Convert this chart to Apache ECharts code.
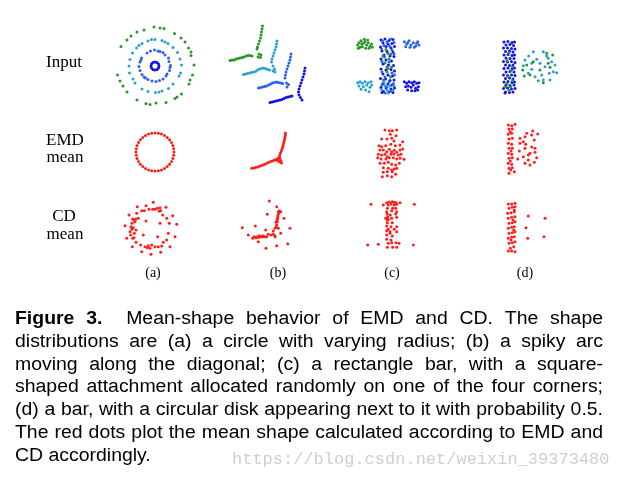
<!DOCTYPE html>
<html>
<head>
<meta charset="utf-8">
<script src="https://cdn.jsdelivr.net/npm/echarts@6/dist/echarts.min.js"></script>
<style>
  html, body { margin: 0; background: #fff; }
  #main { width: 618px; height: 481px; }
</style>
</head>
<body>
<div id="main"></div>
<script>
// ---- data (local units, 1 unit ~ 1px, y up, panel centre = 0,0) ----

// row 1 (a): rings
const ringInner = [[4,0],[3.5,2],[2,3.5],[0,4],[-2,3.5],[-3.5,2],[-4,0],[-3.5,-2],[-2,-3.5],[0,-4],[2,-3.5],[3.5,-2]]
const ringBlue = [[15.5,0.5],[14,4.5],[13.5,8],[10,11],[8,13.5],[3,15],[-0.5,16],[-4.5,15],[-8,13],[-13.5,8],[-15,4],[-16,-0.5],[-15,-4.5],[-13,-8.5],[-11,-11],[-7,-13.5],[-3,-15],[1,-15.5],[4.5,-14.5],[8,-13],[11,-10],[14.5,-4.5],[-14,6],[12,-8],[15,-1.5],[5,14.5],[-9.5,-12]]
const ringTeal = [[26.5,1],[25,7],[22.5,13.5],[18,18.5],[13,22.5],[7,25.5],[0,26.5],[-7,25],[-13,22.5],[-18.5,18],[-22.5,13],[-25,6.5],[-26,0],[-25.5,-7],[-22,-13],[-13,-23],[-7,-25.5],[0.5,-26.5],[7,-25],[13.5,-22.5],[18,-18],[25.5,-7],[-3.5,26.5],[10,24],[-16,20.5],[24,-10],[-20,-17],[4,-26]]
const ringGreen = [[39,1],[36,10.5],[33.5,18],[26,28],[19.5,32.5],[9,37.5],[-1,39],[-11,36],[-18,34],[-28,26],[-34,19.5],[-37.5,-9],[-32,-20],[-28,-26],[-18,-34],[-9,-37.5],[1,-37],[11,-36.5],[20,-32.5],[26.5,-28],[34,-18],[37.5,-9],[35,-14],[36,14],[-35,-15],[-24,30],[5,38],[-5,-38.5],[22,-31],[30,24]]

// row 1 (b): spiky arcs
const arcGreen = [[-5.5,38],[-6,35],[-6.5,32],[-7,29],[-7.5,26],[-8.5,23],[-9.5,20],[-10.5,17],[-11,15],[-9,10],[-7,9],[-7.5,6.5],[-10,7],[-38,3.5],[-36,4],[-34,4],[-32,5],[-30,5.5],[-28,6],[-26,6.5],[-24,7],[-22,8],[-20,8.5],[-18,8.5],[-16,8]]
const arcTeal = [[9,23],[8.5,20],[8,17],[7,14],[6,11],[5,8],[4,5],[3.5,2],[5,-2],[6.5,-5],[7,-8],[5,-7],[-24.5,-10.5],[-22.5,-10],[-20.5,-9.5],[-18.5,-9],[-16.5,-8.5],[-14.5,-8],[-12.5,-7.5],[-10.5,-6],[-8.5,-5],[-6.5,-4.5],[-4.5,-4],[-2.5,-4.5],[-0.5,-5.5],[1.5,-6]]
const arcLight = [[23,10],[22.5,7],[22,4],[21,1],[20,-2],[19,-5],[18,-8],[17.5,-11],[17,-14],[18.5,-19],[20.5,-20.5],[19,-23],[-9.5,-24],[-7.5,-23.5],[-5.5,-23],[-3.5,-22.5],[-1.5,-22],[0.5,-21],[2.5,-20],[4.5,-19],[6.5,-18.5],[8.5,-18],[10.5,-18.5],[12.5,-19],[14.5,-19.5]]
const arcBlue = [[37,-4],[36.5,-7],[36,-10],[35,-13],[34,-16],[33,-19],[32,-22],[31,-25],[30.5,-28],[31,-31],[32.5,-33.5],[34,-36],[2,-38.5],[4,-38],[6,-37.5],[8,-37],[10,-36.5],[12,-36],[14,-35.5],[16,-34.5],[18,-33.5],[20,-33],[22,-32.5],[24,-32]]

// row 1 (c): bar with corner squares
const cGreen = [[-30.3,21],[-29,23.3],[-27,25.3],[-24.7,22.7],[-23,24.3],[-21.3,21],[-19.7,23.3],[-18,20],[-16.3,22],[-28,18.7],[-25.7,19.3],[-22.3,17.7],[-19,17.7],[-23.7,26.7],[-20.3,26],[-15.7,18.7],[-29.7,17.7],[-26.3,22]]
const cTeal = [[-30.3,-16.7],[-28,-15.7],[-25.7,-17.3],[-23,-15.7],[-19.7,-16.7],[-17,-15.7],[-29,-20],[-24.7,-20.7],[-21.3,-19],[-18,-21.3],[-27,-23.3],[-22.3,-24],[-19,-25.7],[-16.3,-19]]
const cLight = [[16.3,24.3],[18.7,22],[21,25.3],[23,21],[25.3,23.3],[27.7,20],[29.7,24.3],[31,21],[17.7,19.3],[22,18.7],[26.3,18.7],[28.7,22.7],[19.7,23.3]]
const cBlue = [[16.3,-15.7],[18.7,-17.3],[21,-15.7],[23.7,-16.7],[26.3,-15.7],[28.7,-17.3],[31,-16.7],[17.7,-20.7],[20.3,-20],[23,-21.3],[25.3,-19],[27.7,-22.3],[30.3,-20.7],[19.7,-24],[23.7,-24.7],[27,-24.7],[29.7,-24]]
const cBarBlue = [[-7,26],[-3,27],[1,25.5],[5,26.5],[-5,23],[0,22],[4,22.5],[-7.5,19],[-2,19.5],[3,18],[6.5,19.5],[-6,15],[-1,14.5],[5,14],[-4,11],[2,10],[6,9.5],[-7,7],[-2,6],[3.5,5],[-5,2],[0.5,1],[5.5,0.5],[-7,-3],[-2,-4],[3,-3.5],[6.5,-5],[-5,-8],[0,-9],[4.5,-10],[-7.5,-12.5],[-2.5,-13],[2,-14.5],[6,-14],[-5,-17.5],[0,-18],[4,-19],[-7,-21.5],[-2,-22],[3,-23],[6.5,-22],[-4.5,-25.5],[1,-26],[5,-26.5],[-6,-26.5]]
const cBarLight = [[-5.5,25],[2.5,27],[-1,24],[6,23.5],[-4,20.5],[1.5,20],[-6.5,17],[4,16],[0,12.5],[-3.5,9],[6,12],[-6,4.5],[1,4],[-1,-1],[4,-7],[-6,-6],[-3,-11],[6.5,-9],[1,-16],[-6,-19],[5.5,-17.5],[-1,-21],[3,-25],[-3,-27]]
const cBarGreen = [[-2,16.5],[3,12],[-5,10],[1,7],[-3,3],[3.5,-1],[-1,-6],[2.5,-11],[-4.5,-14],[0,-2.5]]
const cBarTeal = [[-4,-16],[2,-20],[-1,-24],[5,-24],[-6.5,-23.5],[6,-19.5],[-3,-19.5],[0,-27]]

// row 1 (d): bar + disk
const dBarBlue = [[-24,25],[-20,25.5],[-16,24.5],[-13.5,25],[-22,22],[-18,22.5],[-14.5,21.5],[-24.5,19],[-20.5,19],[-16.5,18.5],[-13,18],[-22.5,15.5],[-18.5,16],[-15,15],[-24,12],[-20,12.5],[-16,11.5],[-13.5,12],[-22,9],[-18,8.5],[-14,8.5],[-24.5,5.5],[-20.5,5],[-16.5,5.5],[-13,4.5],[-22.5,2],[-18.5,1.5],[-15,2],[-24,-1.5],[-20,-1],[-16,-2],[-13.5,-1],[-22,-5],[-18,-4.5],[-14,-5],[-24.5,-8],[-20.5,-8.5],[-16.5,-8],[-13,-8.5],[-22.5,-11.5],[-18.5,-11],[-15,-12],[-24,-15],[-20,-14.5],[-16,-15.5],[-13.5,-15],[-22,-18],[-18,-18.5],[-14,-18],[-24.5,-21.5],[-20.5,-21],[-16.5,-22],[-13,-21.5],[-22.5,-25],[-18.5,-25.5],[-15,-25],[-23,-26]]
const dBarGreen = [[-19,14],[-21,6.5],[-17,-3.5],[-19.5,-9.5],[-15.5,-13.5],[-21,-16.5],[-17.5,-20],[-19,-23.5],[-23,-19.5],[-15.5,0]]
const dDiskTeal = [[5.3,15.3],[0.7,11],[-3,7],[-4.7,1.3],[3.7,3.7],[8.7,7.7],[15.3,15.3],[18.7,11],[12,3.7],[17,0.3],[20.3,8.7],[23.7,5.3],[27,2],[25.3,-4.7],[21.3,-6.3],[13.7,-8],[7,-9.7],[0.3,-6.3],[3.7,-2.3],[15.3,-13],[10.3,-13.7],[28.7,-5.7],[22,-13]]
const dDiskGreen = [[5.3,5.3],[-1.3,2],[-5.3,-3],[-3.7,-9],[2,-8],[12,-3],[18.7,13.7],[24.7,12],[15.3,-15.7],[20.3,3.7],[22,-0.3]]

// row 2: EMD mean
const emdA = [[19,0],[18.7,3.3],[17.9,6.5],[16.5,9.5],[14.6,12.2],[12.2,14.6],[9.5,16.5],[6.5,17.9],[3.3,18.7],[0,19],[-3.3,18.7],[-6.5,17.9],[-9.5,16.5],[-12.2,14.6],[-14.6,12.2],[-16.5,9.5],[-17.9,6.5],[-18.7,3.3],[-19,0],[-18.7,-3.3],[-17.9,-6.5],[-16.5,-9.5],[-14.6,-12.2],[-12.2,-14.6],[-9.5,-16.5],[-6.5,-17.9],[-3.3,-18.7],[0,-19],[3.3,-18.7],[6.5,-17.9],[9.5,-16.5],[12.2,-14.6],[14.6,-12.2],[16.5,-9.5],[17.9,-6.5],[18.7,-3.3]]
const emdB = [[17.5,19],[17.3,17],[17,15],[16.7,13],[16.2,11],[15.7,9],[15.2,7],[14.6,5],[14,3],[13.3,1],[12.5,-1],[11.8,-3],[11.5,-5],[10,-6],[12,-7],[13,-9],[10.5,-9],[9,-8],[12,-10],[13.5,-11],[8,-7.5],[-16.3,-16.3],[-14.5,-16],[-12.5,-15.5],[-10.5,-15],[-8.5,-14.3],[-6.5,-13.6],[-4.5,-12.8],[-2.5,-12],[-0.5,-11],[1.5,-10],[3.5,-9.2],[5.5,-8.5],[7,-8]]
const emdC = [[-5,23],[-0.7,22.3],[2.3,22.3],[6.7,23],[-8.3,14],[-3,14],[1.7,14.7],[6,17.3],[0.3,18.7],[4,12],[12.7,11.3],[-11,7.3],[-8.3,6.3],[-4.3,7.3],[0.7,8.7],[5.3,7.3],[10,8],[-10,3],[-6.7,3],[-3.3,1.3],[-0.7,3.7],[1.7,1.3],[4.3,2.7],[6.7,0.7],[10,3],[12.7,4],[-11.7,-1.3],[-8.3,-2],[-5,-1.3],[-2.7,-3.7],[1,-1.3],[4,-1],[8.3,-2],[11,-1.3],[-12.3,-4.7],[-9,-6],[-4,-6],[-0.7,-4.7],[3.3,-4.7],[6.7,-6],[10,-5.3],[14,-6.3],[-10,-10.3],[-5.7,-10.3],[-1.7,-9.3],[1.7,-11.3],[5.7,-12],[9.3,-10.3],[-6.7,-14.7],[-1.7,-15.3],[1.7,-17],[4.3,-16],[6.7,-15.3],[-6.7,-19.3],[-2.7,-18.7],[2.3,-18.7],[-7.7,-23.7],[-2.7,-22.7],[1.7,-23.7],[5.7,-21.3]]
const emdD = [[-16.7,25],[-13.3,24.3],[-10,25.7],[-16,21],[-12.7,21],[-16.7,15.7],[-13.3,16.7],[-16,11],[-12.7,11.7],[-16.7,6.7],[-13.3,5.7],[-16,1.7],[-12.7,1.7],[-16.7,-3.3],[-13.3,-4.3],[-16,-8.3],[-12.7,-7.7],[-16.7,-13.3],[-13.3,-14.3],[-16,-18.3],[-12.7,-17.7],[-16,-23.3],[-10.7,-21.7],[-14.3,-20],[-15,18.3],[-14,-1],[-14.7,-11],[1.7,16.7],[7.7,19],[12.7,16],[0,13.3],[9.3,10],[-5,6.7],[0.7,5.7],[6.7,3],[10,1.7],[-5.7,-1],[0,1.7],[5,-3.3],[10,-2.3],[-7.3,-9],[-1.7,-6.7],[3.3,-10],[11.7,-7.7],[0,-13.3],[5,-15],[9.3,-12.3],[-1.7,8.3],[6.7,15],[-5,11.7],[3.3,-5]]

// row 3: CD mean
const cdA = [[-1.7,27.7],[-17.7,23.3],[-9,24.3],[5,22.3],[11,22.7],[-26,15],[-18.3,16.7],[-13.3,19.3],[-10.7,19.3],[-6,20.7],[-2.3,20.7],[0,20.7],[2.3,21.7],[4,19],[5.7,19.3],[7.7,15],[11.7,11.7],[17.7,14.3],[-22.3,11],[-21,10],[-19,11],[-23,6.7],[-20,8.3],[-9,9],[14.3,6.7],[21.7,5.7],[-30,4.3],[-24,3.3],[-23.3,0.7],[-21.7,2.3],[5,6.7],[-25,-1.7],[-20.7,-3.3],[-19,0],[-11.7,-5],[13.3,-3.3],[-22.3,-8.3],[-28.3,-8.3],[-21,-7.7],[2.7,-6.7],[20,-6.7],[-19,-12.3],[11.7,-10],[-14.3,-15],[-10,-16.7],[-7.7,-17.7],[-5,-18.3],[-6.7,-15.7],[-3.3,-15],[0,-16.7],[3.3,-16.7],[8.3,-12.3],[6.7,-16],[15,-16.7],[-22.7,-16.7],[-13.3,-21.7],[-4,-24.3],[5.7,-22.3],[-16.7,11.7],[-24.3,-5]]
const cdB = [[1.3,27],[8.7,21.3],[10.3,16.3],[11.3,17],[12.7,16.3],[10,13],[9.7,9.7],[9.3,6.3],[8.7,3],[7,-0.3],[10.3,-0.3],[8,5.7],[-0.7,13.7],[16,9.7],[22,-0.3],[-25.7,0.3],[-12.7,2],[-19.7,-7],[-2.3,-2],[0.3,-6.3],[3,-7],[5.3,-6.3],[7,-7.7],[-1.3,-8.7],[-14,-8.7],[-11.3,-8.7],[-9.7,-9.3],[-8,-9],[-6.3,-8.7],[-4.7,-8.7],[-3,-8.7],[-15.3,-10.3],[-12,-9.7],[-9.7,-13.7],[7,-8.7],[12.7,-5.3],[8.7,-17.7],[-2,-20.3],[19.7,-15.7],[5.3,-3],[10.7,14.7],[9.7,11.3],[9,8],[8.3,1.3],[-8.7,-7.7],[-5.3,-7.7]]
const cdC = [[-3.3,22.3],[-0.7,23],[2.3,23.3],[4.3,22.7],[6,22.3],[10,22.3],[-6.7,20],[-1.7,20],[1,21],[4.3,20],[6.7,20.7],[-2.7,16.7],[2.7,16.7],[5.7,16.7],[-3.3,13.3],[1.7,14.3],[6.7,13.3],[-2.7,11],[0.3,10],[5.7,11],[-4.3,6.7],[-1.7,5.7],[-2.7,5],[1.7,6.7],[6.7,7.7],[-2.7,2.3],[2.3,2.3],[-3.3,-1],[1,-1.7],[6.7,-1.7],[4.3,-4.3],[-3.3,-5.7],[0,-6.7],[6.7,-6.7],[-3.3,-10],[2.3,-11],[-3.3,-14.3],[1,-15],[-1.7,-18.3],[1.7,-17.7],[6,-17.7],[9,-18.3],[-2.7,-22.3],[2.7,-22.3],[6.7,-22.3],[0,-8.3],[-1.7,-4.3],[-2.3,8.3],[-19,20.7],[24.3,20.7],[-22.3,-20],[-11.7,-19.3],[23.3,-20]]
const cdD = [[-16.7,24],[-13.3,24],[-10,24.7],[-16,19.7],[-12.7,20.7],[-10,21.3],[-17.3,14.7],[-14,15.3],[-10.7,16.3],[-16.7,9.7],[-13.3,10.7],[-10,11.3],[-16,4.7],[-12.7,5.3],[-10,6.3],[-16.7,-0.3],[-13.3,0.7],[-10.7,1.3],[-16,-5.3],[-12.7,-4.7],[-10,-3.7],[-16.7,-10.3],[-13.3,-9.3],[-10.7,-8.7],[-16,-15.3],[-12.7,-14.7],[-10,-13.7],[-16.7,-23],[-13.3,-23],[-10,-23.7],[-14.7,-20.3],[-11.3,-18.7],[-12,8],[-11.3,-2],[-14,-12],[-10.7,18],[3.3,12],[20,9.7],[1,0.3],[2.7,-10.3],[19,-8.7]]

// column and row labels
const colLabels = ['(a)', '(b)', '(c)', '(d)']

// caption lines: [bold lead, rest]
const captionLines = [
  ['Figure 3.', 'Mean-shape behavior of EMD and CD. The shape'],
  ['', 'distributions are (a) a circle with varying radius; (b) a spiky arc'],
  ['', 'moving along the diagonal; (c) a rectangle bar, with a square-'],
  ['', 'shaped attachment allocated randomly on one of the four corners;'],
  ['', '(d) a bar, with a circular disk appearing next to it with probability 0.5.'],
  ['', 'The red dots plot the mean shape calculated according to EMD and'],
  ['', 'CD accordingly.']
]
const watermark = 'https://blog.csdn.net/weixin_39373480'

// ---- layout ----
const GREEN = '#2a962a'
const TEAL = '#2a9fd2'
const LIGHT = '#2a62f0'
const BLUE = '#1212e6'
const RED = '#ff1e1e'

const panels = [
  {cx: 155, cy: 66, layers: [[ringGreen, GREEN], [ringTeal, TEAL], [ringBlue, LIGHT], [ringInner, BLUE]]},
  {cx: 268, cy: 64, layers: [[arcGreen, GREEN], [arcTeal, TEAL], [arcLight, LIGHT], [arcBlue, BLUE]]},
  {cx: 388, cy: 66, layers: [[cGreen, GREEN], [cTeal, TEAL], [cLight, LIGHT], [cBlue, BLUE], [cBarBlue, BLUE], [cBarLight, LIGHT], [cBarGreen, GREEN], [cBarTeal, TEAL]]},
  {cx: 528, cy: 67, layers: [[dBarBlue, BLUE], [dBarGreen, GREEN], [dDiskTeal, TEAL], [dDiskGreen, GREEN]]},
  {cx: 155, cy: 152, layers: [[emdA, RED]]},
  {cx: 268, cy: 152, layers: [[emdB, RED]]},
  {cx: 390, cy: 153, layers: [[emdC, RED]]},
  {cx: 525, cy: 150, layers: [[emdD, RED]]},
  {cx: 155, cy: 230, layers: [[cdA, RED]]},
  {cx: 268, cy: 228, layers: [[cdB, RED]]},
  {cx: 390, cy: 225, layers: [[cdC, RED]]},
  {cx: 525, cy: 228, layers: [[cdD, RED]]}
]

let grid = []
let xAxis = []
let yAxis = []
let series = []
panels.forEach((p, i) => {
  grid.push({left: p.cx - 50, top: p.cy - 50, width: 100, height: 100, show: false})
  xAxis.push({type: 'value', gridIndex: i, min: -50, max: 50, show: false})
  yAxis.push({type: 'value', gridIndex: i, min: -50, max: 50, show: false})
  p.layers.forEach(l => {
    series.push({
      type: 'scatter',
      xAxisIndex: i,
      yAxisIndex: i,
      data: l[0],
      symbolSize: 3,
      itemStyle: {color: l[1], opacity: 1},
      silent: true
    })
  })
})

// ---- texts ----
let graphic = []
const serif = '"Liberation Serif", "Times New Roman", serif'
const sans = '"Liberation Sans", Arial, sans-serif'

function label (text, x, y, size) {
  graphic.push({
    type: 'text', x: x, y: y, silent: true,
    style: {text: text, font: size + 'px ' + serif, fill: '#000', align: 'center', verticalAlign: 'middle', textAlign: 'center', textVerticalAlign: 'middle'}
  })
}

label('Input', 64, 63, 17)
label('EMD', 65, 141, 17)
label('mean', 65, 158, 17)
label('CD', 64, 217, 17)
label('mean', 65, 235, 17)
const colX = [153, 278, 392, 525]
colLabels.forEach((t, i) => label(t, colX[i], 273, 14))

// justified caption
const measure = document.createElement('canvas').getContext('2d')
function textWidth (str, font) {
  measure.font = font
  return measure.measureText(str).width
}

const capSize = 18
const capScale = 1.08
const capLeft = 15
const capRight = 603
const capTop = 319
const capStep = 22.8

captionLines.forEach((line, n) => {
  let words = []
  if (line[0]) line[0].split(' ').forEach(w => words.push({text: w, bold: true}))
  line[1].split(' ').forEach(w => words.push({text: w, bold: false}))
  words.forEach(w => {
    w.font = (w.bold ? 'bold ' : '') + capSize + 'px ' + sans
    w.width = textWidth(w.text, w.font) * capScale
  })
  let extra = line[0] ? 12 : 0
  let total = words.reduce((s, w) => s + w.width, 0) + extra
  let last = n === captionLines.length - 1
  let gap = last ? textWidth(' ', capSize + 'px ' + sans) * capScale : (capRight - capLeft - total) / (words.length - 1)
  let x = capLeft
  let y = capTop + n * capStep
  words.forEach((w, k) => {
    graphic.push({
      type: 'text', x: x, y: y, scaleX: capScale, silent: true,
      style: {text: w.text, font: w.font, fill: '#000', align: 'left', verticalAlign: 'middle', textAlign: 'left', textVerticalAlign: 'middle'}
    })
    x += w.width + gap
    if (w.bold && words[k + 1] && !words[k + 1].bold) x += extra
  })
})

graphic.push({
  type: 'text', x: 232, y: 459, silent: true,
  style: {text: watermark, font: '17px "Liberation Mono", monospace', fill: '#cfcfcf', align: 'left', verticalAlign: 'middle', textAlign: 'left', textVerticalAlign: 'middle'}
})

const chart = echarts.init(document.getElementById('main'), null, {renderer: 'canvas'})
chart.setOption({
  backgroundColor: '#fff',
  animation: false,
  grid: grid,
  xAxis: xAxis,
  yAxis: yAxis,
  series: series,
  graphic: graphic
})
</script>
</body>
</html>
